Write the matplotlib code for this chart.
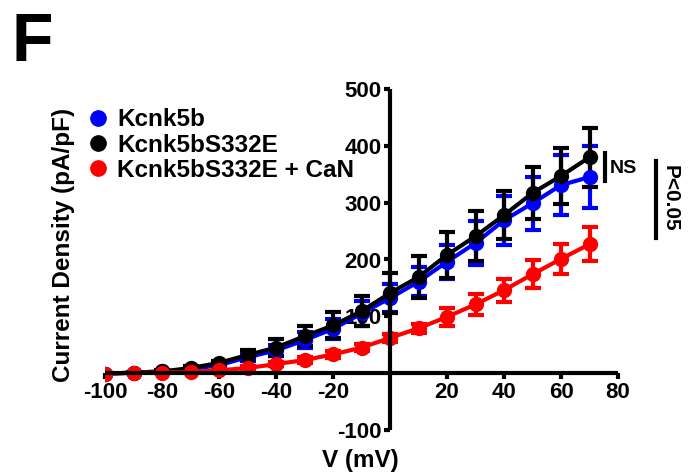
import matplotlib
matplotlib.use("Agg")
import matplotlib.pyplot as plt
from matplotlib.lines import Line2D
import numpy as np

plt.rcParams['font.family'] = ['Liberation Sans', 'DejaVu Sans']
plt.rcParams['font.weight'] = 'bold'

voltage = [-100, -90, -80, -70, -60, -50, -40, -30, -20, -10, 0, 10, 20, 30, 40, 50, 60, 70]
kcnk5b = [-1, 1, 3, 7, 14, 28, 40, 58, 78, 105, 132, 161, 196, 229, 269, 299, 331, 345]
kcnk5b_err = [1, 1, 2, 3, 4, 6, 10, 14, 18, 22, 25, 25, 30, 38, 43, 47, 52, 55]
s332e = [-1, 1, 3, 9, 18, 32, 45, 65, 84, 109, 141, 169, 208, 241, 278, 317, 347, 380]
s332e_err = [1, 1, 2, 3, 4, 8, 15, 18, 23, 26, 35, 37, 40, 44, 42, 45, 50, 52]
s332e_can = [-1, 0.5, 1, 2, 5, 9, 16, 23, 33, 45, 62, 79, 99, 121, 146, 174, 201, 227]
s332e_can_err = [1, 1, 1, 1, 2, 3, 4, 5, 6, 6, 7, 8, 16, 19, 20, 25, 27, 30]

series = [
    ("Kcnk5b", kcnk5b, kcnk5b_err, "#0000ff"),
    ("Kcnk5bS332E", s332e, s332e_err, "#000000"),
    ("Kcnk5bS332E + CaN", s332e_can, s332e_can_err, "#ff0000"),
]

fig = plt.figure(figsize=(6.92, 4.76), dpi=100)
ax = fig.add_axes([105/692, 1-430/476, (618-105)/692, (430-89)/476])

handles = []
for name, vals, errs, col in series:
    ax.errorbar(voltage, vals, yerr=errs, color=col, marker='o', markersize=10,
                linewidth=3, elinewidth=3, capsize=5.5, capthick=3)
    handles.append(Line2D([], [], color=col, marker='o', markersize=11, linestyle='none', label=name))

ax.set_xlim(-100, 80)
ax.set_ylim(-100, 500)
ax.spines['left'].set_position(('data', 0))
ax.spines['bottom'].set_position(('data', 0))
ax.spines['right'].set_visible(False)
ax.spines['top'].set_visible(False)
for s in ['left', 'bottom']:
    ax.spines[s].set_linewidth(3)
    ax.spines[s].set_capstyle('butt')

xt = [-100, -80, -60, -40, -20, 20, 40, 60, 80]
yt = [-100, 100, 200, 300, 400, 500]
ax.set_xticks(xt)
ax.set_xticklabels([str(v) for v in xt])
ax.set_yticks(yt)
ax.set_yticklabels([str(v) for v in yt])
ax.tick_params(axis='both', width=3, length=4, labelsize=16, pad=2)
for lab in ax.get_xticklabels() + ax.get_yticklabels():
    lab.set_fontweight('bold')

leg = fig.legend(handles=handles, loc='center left', bbox_to_anchor=(88/692, 1-145/476), frameon=False,
                 prop={'size': 17.5, 'weight': 'bold'}, handlelength=0.8,
                 handletextpad=0.4, labelspacing=0.1, borderaxespad=0, borderpad=0)

fig.text(64/692, 1-245/476, "Current Density (pA/pF)", rotation=90, ha='center', va='center',
         fontsize=17.5, fontweight='bold')
fig.text(360/692, 1-461/476, "V (mV)", ha='center', va='center', fontsize=17.5, fontweight='bold')
fig.text(11/692, 1-61/476, "F", ha='left', va='baseline', fontsize=49, fontweight='bold')

# annotations
fig.add_artist(Line2D([605/692, 605/692], [1-153/476, 1-181/476], color='black', linewidth=3))
fig.text(610/692, 1-168/476, "NS", ha='left', va='center', fontsize=14, fontweight='bold')
fig.add_artist(Line2D([656/692, 656/692], [1-161/476, 1-238/476], color='black', linewidth=3))
fig.text(670/692, 1-198.5/476, "P<0.05", rotation=-90, ha='center', va='center', fontsize=15, fontweight='bold')

fig.savefig("out.png", dpi=100)
